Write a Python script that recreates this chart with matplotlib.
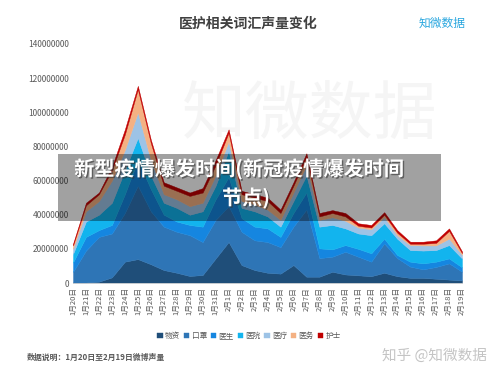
import matplotlib
matplotlib.use('Agg')
import matplotlib.pyplot as plt
import matplotlib.patheffects as pe
from matplotlib.patches import Rectangle
import numpy as np

plt.rcParams['font.family'] = ['Noto Sans CJK SC', 'DejaVu Sans']

dates = ['1月20日', '1月21日', '1月22日', '1月23日', '1月24日', '1月25日', '1月26日',
         '1月27日', '1月28日', '1月29日', '1月30日', '1月31日', '2月1日', '2月2日',
         '2月3日', '2月4日', '2月5日', '2月6日', '2月7日', '2月8日', '2月9日',
         '2月10日', '2月11日', '2月12日', '2月13日', '2月14日', '2月15日', '2月16日',
         '2月17日', '2月18日', '2月19日']

# 单位：百万
wuzi = [0.3, 0.3, 0.8, 3.3, 12.5, 14, 11, 7.6, 6, 4.1, 4.7, 14.4, 24, 10.5, 7.6, 6,
        5.5, 10.5, 3.7, 3.7, 6.6, 5, 4.5, 4, 6, 4, 3, 3, 2.5, 2, 1.5]
kouzhao = [6.2, 18.7, 26.2, 25.7, 28.5, 43, 31, 25.4, 24, 23.9, 19.3, 22.6, 21, 19.5,
           17.4, 18, 15.5, 22.5, 39.3, 10.9, 8.8, 13.3, 10.9, 8.5, 17.2, 10.6, 6.6, 5,
           6.9, 9.5, 5.1]
yisheng = [5.5, 8, 4, 5, 11, 15, 13, 7, 6, 6, 9, 12, 17, 8, 8, 8, 6, 8, 10, 5.7, 4.3,
           3.9, 4.6, 4.9, 2.8, 1.8, 2.9, 3.5, 3.1, 2.9, 2.6]
yiyuan = [5, 9, 9, 13, 14, 13, 8, 7, 8, 6, 9, 8, 15.5, 6, 9, 7, 6, 7, 10, 12.7, 14.3,
          9.8, 9, 10.6, 9, 9.6, 6.8, 7.5, 6.8, 7.8, 5.2]
yiliao = [3, 6, 8, 13, 12, 15, 9, 5, 5, 5, 5, 6, 5.5, 4, 4, 4, 4, 5, 6, 4, 4.5, 4.5,
          3.5, 3.5, 3.6, 2, 2.9, 3, 2.7, 3.8, 2.1]
yiwu = [2, 3.5, 4, 6, 9, 13.5, 10, 5, 5, 6, 6, 6, 5, 4, 4, 5, 4, 4, 5, 2, 2.5, 2.5, 1,
        1, 1.4, 1.5, 0.8, 1, 1.5, 4.5, 1]
hushi = [1, 1.5, 1, 2, 3, 2, 2, 2, 2, 2, 2.6, 3, 2, 2, 2, 2, 2, 2, 2, 2, 1.7, 2, 1.5,
         1.5, 1.5, 1.5, 1.2, 1.2, 1.5, 1.5, 1]

labels = ['物资', '口罩', '医生', '医院', '医疗', '医务', '护士']
colors = ['#1f4e79', '#2e75b6', '#1586e0', '#12b4ee', '#9dc3e6', '#f4b183', '#c00000']

fig = plt.figure(figsize=(5, 3.76), dpi=100)
fig.patch.set_facecolor('white')

# 背景水印
fig.text(0.62, 1 - 116 / 376, '知微数据', fontsize=46, color='#f5f5f5', ha='center',
         va='center', zorder=-1)

ax = fig.add_axes([0.146, 0.2473, 0.778, 0.6357])
ax.set_facecolor('none')

x = np.arange(len(dates))
series = [np.array(s) * 1e6 for s in [wuzi, kouzhao, yisheng, yiyuan, yiliao, yiwu, hushi]]
polys = ax.stackplot(x, *series, labels=labels, colors=colors, linewidth=0.3)
for p, c in zip(polys, colors):
    p.set_edgecolor(c)

ax.set_xlim(0, len(dates) - 1)
ax.set_ylim(0, 140e6)
ax.set_yticks(np.arange(0, 140e6 + 1, 20e6))
ax.set_yticklabels([f'{int(v)}' for v in np.arange(0, 140e6 + 1, 20e6)],
                   fontsize=6, color='#595959')
ax.set_xticks(x)
ax.set_xticklabels(dates, rotation=90, fontsize=5.5, color='#595959')
ax.tick_params(length=0, pad=3)
for s in ['top', 'right', 'left']:
    ax.spines[s].set_visible(False)
ax.spines['bottom'].set_color('#d9d9d9')
ax.spines['bottom'].set_linewidth(0.6)

fig.text(0.497, 0.938, '医护相关词汇声量变化', fontsize=10, fontweight='bold',
         color='#404040', ha='center', va='center')
fig.text(0.884, 0.938, '知微数据', fontsize=8.5, color='#2aa7df',
         ha='center', va='center')

fig.legend(loc='center', bbox_to_anchor=(0.498, 0.106), ncol=7, frameon=False,
           fontsize=5.5, handlelength=0.7, handleheight=0.7, handletextpad=0.3,
           columnspacing=0.5, labelcolor='#595959')

fig.text(0.054, 0.05, '数据说明：1月20日至2月19日微博声量', fontsize=5.7,
         color='#595959', fontweight='bold', ha='left', va='center')
fig.text(0.974, 0.053, '知乎 @知微数据', fontsize=10.5, color='#c4c4c4',
         ha='right', va='center')

# 半透明横幅
fig.patches.append(Rectangle((58 / 500, 1 - 221 / 376), (441 - 58) / 500, 67 / 376,
                             transform=fig.transFigure, facecolor='black',
                             alpha=0.37, edgecolor='none', zorder=5))
shadow = [pe.withSimplePatchShadow(offset=(1, -1), shadow_rgbFace='#333333', alpha=0.6)]
fig.text(0.478, 1 - 169 / 376, '新型疫情爆发时间(新冠疫情爆发时间', fontsize=14.5,
         fontweight='bold', color='white', ha='center', va='center', zorder=6,
         path_effects=shadow)
fig.text(0.492, 1 - 198 / 376, '节点)', fontsize=14.5, fontweight='bold',
         color='white', ha='center', va='center', zorder=6, path_effects=shadow)

plt.savefig('out.png', dpi=100)
